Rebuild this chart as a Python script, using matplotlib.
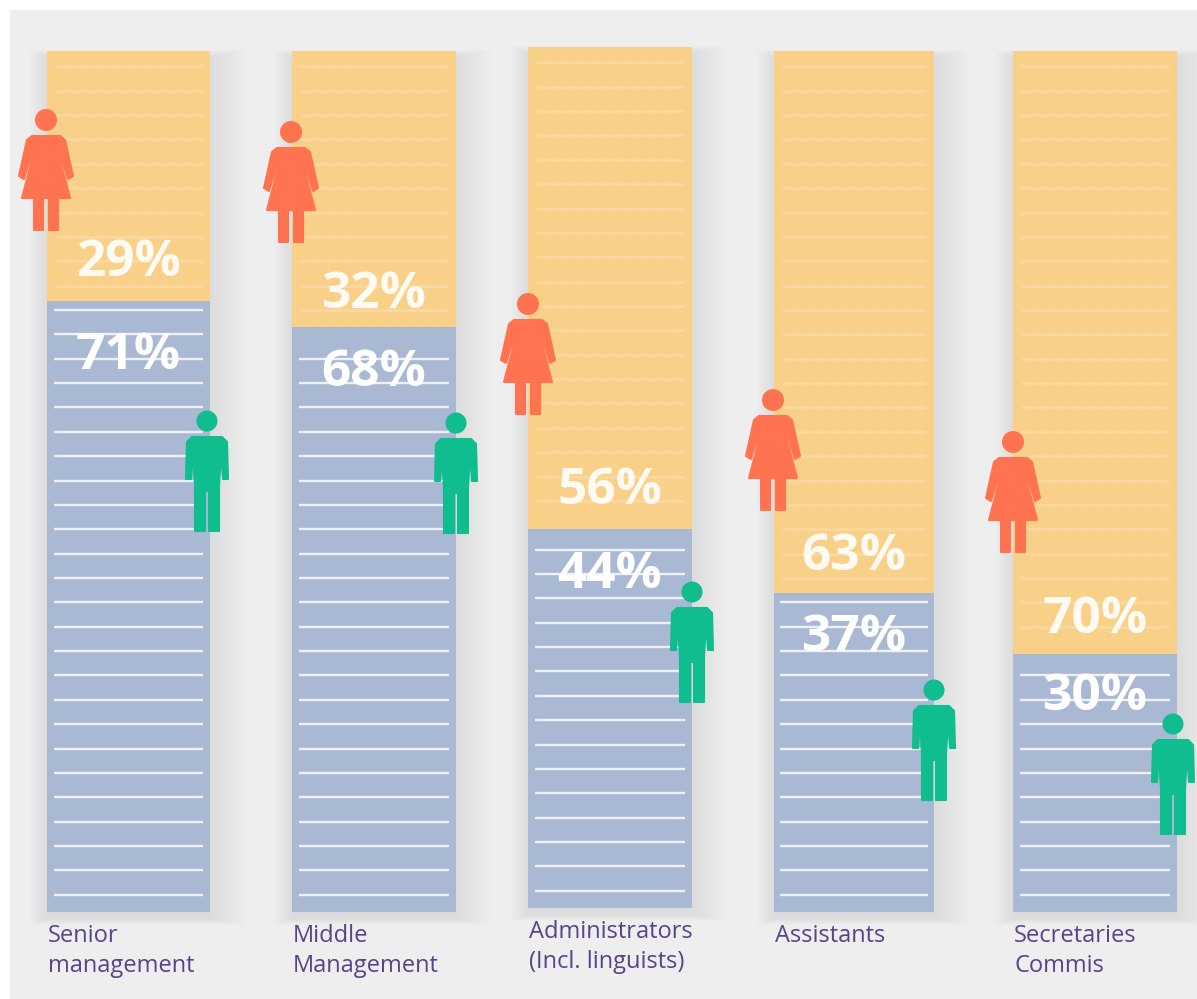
import numpy as np
import matplotlib
matplotlib.use('Agg')
import matplotlib.pyplot as plt
from matplotlib.patches import Rectangle, Circle, Polygon

# Share of women and men per staff category
categories = ['Senior\nmanagement', 'Middle\nManagement', 'Administrators\n(Incl. linguists)',
              'Assistants', 'Secretaries\nCommis']
women = [29, 32, 56, 63, 70]
men = [71, 68, 44, 37, 30]

# Layout in pixels
W, H = 1197, 999
bar_left = [47, 292, 528, 774, 1013]
bar_right = [210, 456, 692, 934, 1177]
bar_top = [51, 51, 47, 51, 51]
bar_bottom = [912, 912, 908, 912, 912]
label_up = [38, 32, 38, 36, 34]
label_down = [55, 46, 46, 45, 43]
woman_pos = [(46, 110), (291, 122), (528, 294), (773, 390), (1013, 432)]
man_pos = [(207, 411), (456, 413), (692, 582), (934, 680), (1173, 714)]
cat_y = [936, 936, 932, 936, 936]

ORANGE = '#F9D088'
BLUE = '#A9B8D3'
CORAL = '#FF7350'
GREEN = '#10BD8E'
PURPLE = '#5A4388'

plt.rcParams['font.family'] = ['Open Sans', 'DejaVu Sans']

fig = plt.figure(figsize=(W / 100, H / 100), dpi=100, facecolor='white')


def px_axes(zorder):
    ax = fig.add_axes([0, 0, 1, 1], zorder=zorder)
    ax.set_xlim(0, W)
    ax.set_ylim(H, 0)
    ax.axis('off')
    return ax


# background panel and soft bar shadows
back = px_axes(0)
back.add_patch(Rectangle((10, 10), W - 10, H - 10, fc='#EEEEEF', ec='none'))
for l, r, t, b in zip(bar_left, bar_right, bar_top, bar_bottom):
    for grow in range(36, 0, -2):
        back.add_patch(Rectangle((l - grow * 0.5, t + 6 - grow * 0.2), r - l + grow * 1.5, b - t + grow * 0.4,
                                 fc='#D4D4D9', ec='none', alpha=0.035))

# one axes per column so each stacks on a 0-100 scale
for i in range(len(categories)):
    l, r, t, b = bar_left[i], bar_right[i], bar_top[i], bar_bottom[i]
    ax = fig.add_axes([l / W, 1 - b / H, (r - l) / W, (b - t) / H], zorder=1)
    ax.set_xlim(0, 1)
    ax.set_ylim(0, 100)
    ax.axis('off')
    ax.bar(0.5, men[i], width=1, color=BLUE)
    ax.bar(0.5, women[i], width=1, bottom=men[i], color=ORANGE)

    # ruled stripes across the column
    rows = np.arange(2.0, 100, 2.83)
    low = rows[rows < men[i] - 1]
    high = rows[rows > men[i] + 1]
    ax.hlines(low, 0.04, 0.96, color='white', lw=1.7, alpha=0.8)
    ax.hlines(high, 0.05, 0.95, color='#FBDAA2', lw=2.2, alpha=0.8)
    ax.vlines(np.arange(0.12, 0.95, 0.1), men[i] + 0.5, 99, color='#FBDAA2', lw=1.0, alpha=0.35)

    ax.annotate(f'{women[i]}%', (0.5, men[i]), xytext=(0, label_up[i] * 0.72), textcoords='offset points',
                ha='center', va='center', color='#FFFBF2', fontsize=37, fontweight='bold', zorder=5,
                annotation_clip=False)
    ax.annotate(f'{men[i]}%', (0.5, men[i]), xytext=(0, -label_down[i] * 0.72), textcoords='offset points',
                ha='center', va='center', color='white', fontsize=37, fontweight='bold', zorder=5,
                annotation_clip=False)

front = px_axes(3)


def draw_woman(ax, cx, top):
    ax.add_patch(Circle((cx, top + 10), 11, fc=CORAL, ec='none'))
    body = [(-14, 26), (14, 26), (19, 30), (27, 66), (22, 69), (15, 46), (14, 50), (24, 88), (12, 88),
            (12, 120), (3, 120), (3, 88), (-3, 88), (-3, 120), (-12, 120), (-12, 88), (-24, 88),
            (-14, 50), (-15, 46), (-22, 69), (-27, 66), (-19, 30)]
    ax.add_patch(Polygon([(cx + x, top + y) for x, y in body], fc=CORAL, ec=CORAL, lw=1.5, joinstyle='round'))


def draw_man(ax, cx, top):
    ax.add_patch(Circle((cx, top + 10), 10.5, fc=GREEN, ec='none'))
    body = [(-15, 26), (15, 26), (20, 31), (21, 68), (16, 68), (14, 40), (12, 75), (12, 120),
            (2, 120), (2, 80), (-2, 80), (-2, 120), (-12, 120), (-12, 75), (-14, 40), (-16, 68),
            (-21, 68), (-20, 31)]
    ax.add_patch(Polygon([(cx + x, top + y) for x, y in body], fc=GREEN, ec=GREEN, lw=1.5, joinstyle='round'))


for cx, top in woman_pos:
    draw_woman(front, cx, top)
for cx, top in man_pos:
    draw_man(front, cx, top)

for l, y, name in zip(bar_left, cat_y, categories):
    for j, line in enumerate(name.split('\n')):
        front.text(l + 1, y + j * 30, line, ha='left', va='center', color=PURPLE, fontsize=17)

fig.savefig('out.png', dpi=100)
